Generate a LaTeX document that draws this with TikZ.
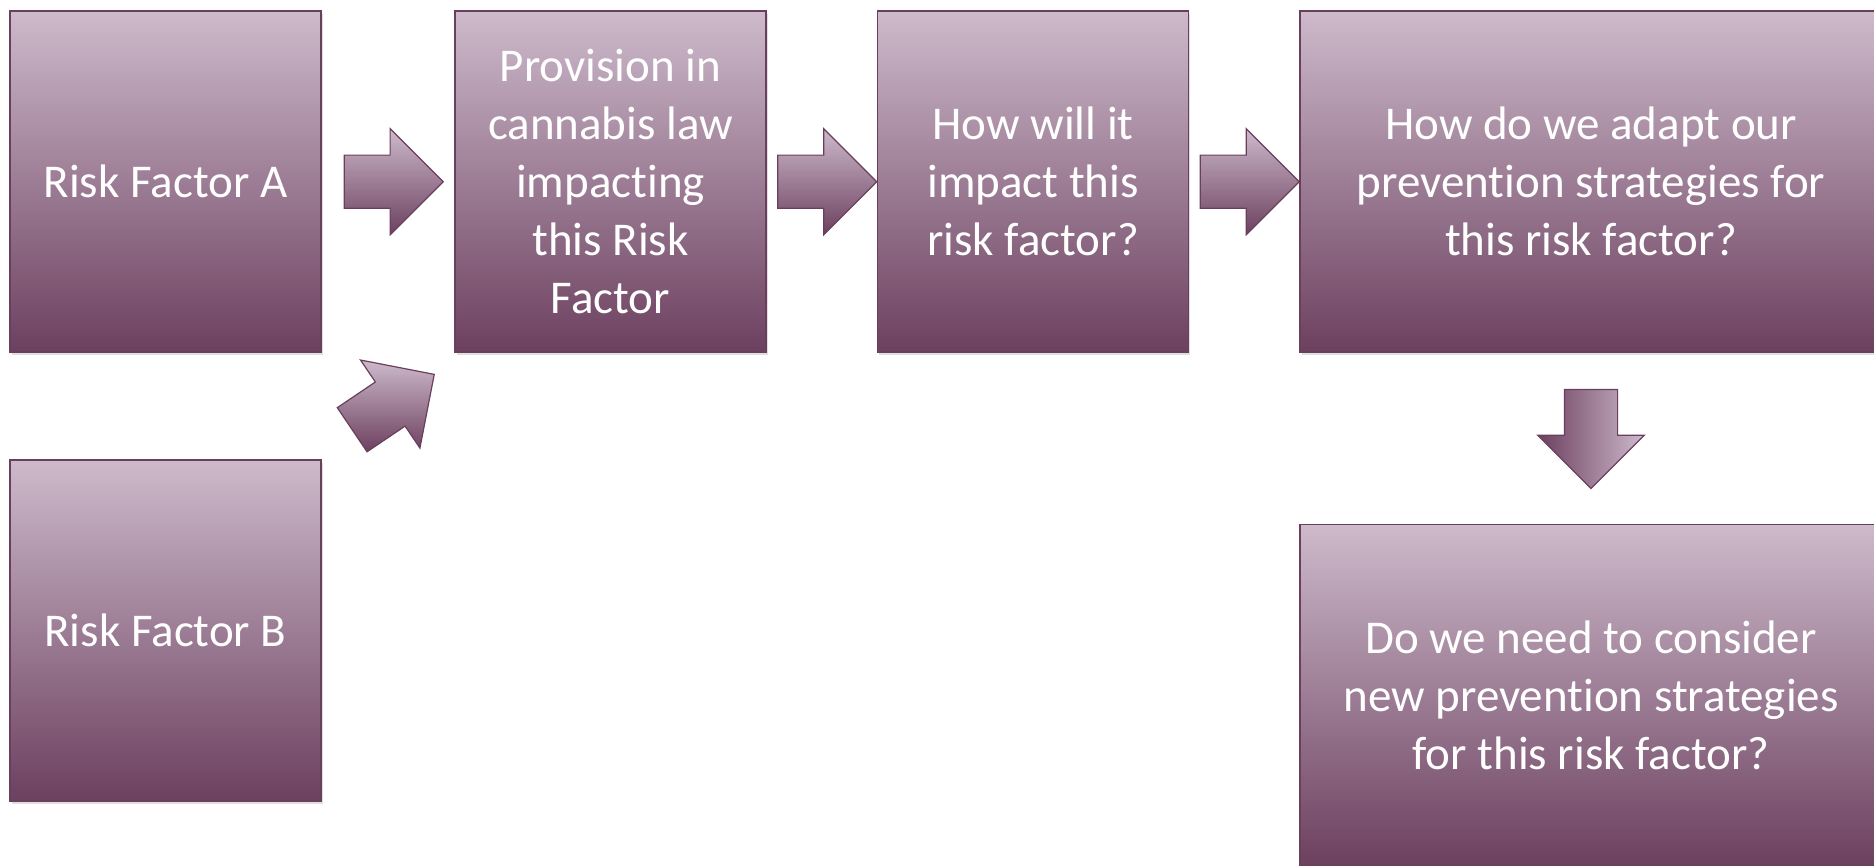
\documentclass[tikz,border=0pt]{standalone}
\usepackage{fontspec}
\setmainfont{Carlito}[Ligatures=NoCommon]
\usetikzlibrary{positioning, shapes.arrows, shadows}
\definecolor{plumLight}{HTML}{CDBACB}
\definecolor{plumDark}{HTML}{6C405F}
\definecolor{plumEdge}{HTML}{6A3F5D}

\begin{document}
\begin{tikzpicture}[x=1pt, y=-1pt,
  font=\fontsize{47}{58}\selectfont,
  factorbox/.style={draw=plumEdge, line width=1.5pt,
    top color=plumLight, bottom color=plumDark,
    text=white, align=center, inner sep=0pt,
    minimum width=311pt, minimum height=341pt,
    drop shadow={shadow xshift=1.5pt, shadow yshift=-3pt, opacity=0.25}},
  blockarrow/.style={single arrow, draw=plumEdge, line width=1.2pt,
    top color=plumLight, bottom color=plumDark,
    minimum height=99pt, inner sep=0pt, inner ysep=26pt,
    single arrow head extend=26.5pt, outer sep=0pt}
]
\useasboundingbox (0,0) rectangle (1874,865);

% boxes
\node[factorbox] (riskA) at (165.5,181.7) {Risk Factor A};
\node[factorbox, below=106.5pt of riskA] (riskB) {Risk Factor B};
\node[factorbox, right=132.5pt of riskA] (provision)
{Provision in\\cannabis law\\impacting\\this Risk\\Factor};
\node[factorbox, right=110pt of provision] (impact)
{How will it\\impact this\\risk factor?};
\node[factorbox, right=110pt of impact, minimum width=582pt] (adapt)
{How do we adapt our\\prevention strategies for\\this risk factor?};
\node[factorbox, below=171pt of adapt, minimum width=582pt] (newprev)
{Do we need to consider\\new prevention strategies\\for this risk factor?};

% block arrows
\node[blockarrow, left=11pt of provision] (arrA) {};
\node[blockarrow, rotate=34, anchor=tip] (arrB)
  at ([xshift=-20pt, yshift=-21.4pt]provision.south west) {};
\node[blockarrow, left=0pt of impact] (arrP) {};
\node[blockarrow, left=0pt of adapt] (arrI) {};
\node[blockarrow, shape border rotate=270, inner xsep=26pt, inner ysep=0pt,
  left color=plumDark, right color=plumLight,
  above=35.5pt of newprev] (arrD) {};

\end{tikzpicture}
\end{document}
